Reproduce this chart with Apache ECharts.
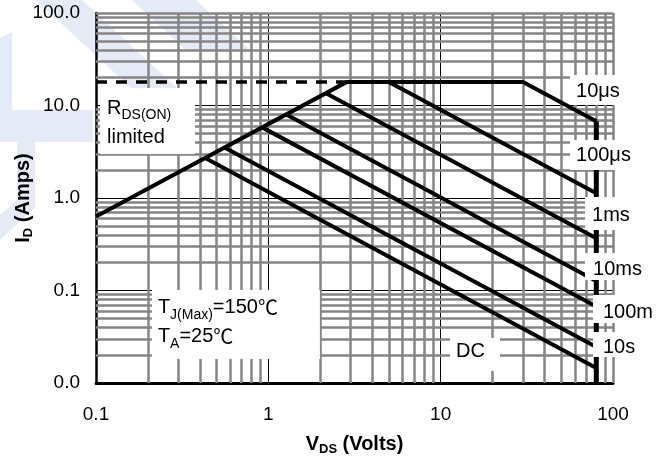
<!DOCTYPE html>
<html><head><meta charset="utf-8">
<script src="https://cdn.jsdelivr.net/npm/echarts@6/dist/echarts.min.js"></script>
<style>html,body{margin:0;padding:0;background:#fff}#c{width:667px;height:456px}</style>
</head><body><div id="c"></div>
<script>
// ---- data ----
const xTickValues = [0.1, 1, 10, 100];
const xTickLabels = ['0.1', '1', '10', '100'];
const yTickValues = [0.01, 0.1, 1, 10, 100];
const yTickLabels = ['0.0', '0.1', '1.0', '10.0', '100.0'];
const xMinorGrid = [0.2,0.3,0.4,0.5,0.6,0.7,0.8,0.9, 2,3,4,5,6,7,8,9, 20,30,40,50,60,70,80,90, 100];
const yMinorGrid = [0.02,0.03,0.04,0.05,0.06,0.07,0.08,0.09, 0.2,0.3,0.4,0.5,0.6,0.7,0.8,0.9, 2,3,4,5,6,7,8,9, 20,30,40,50,60,70,80,90, 100];

const rdsLimit = [[0.1, 0.63], [2.86, 18]];
const currentLimit = [[0.1, 18], [2.86, 18]];
const curve10us = [[2.86, 18], [30, 18], [80, 6.75]];
const curve100us = [[5, 18], [80, 1.125]];
const curve1ms = [[2.16, 13.6], [80, 0.367]];
const curve10ms = [[1.27, 8.0], [80, 0.127]];
const curve100ms = [[0.92, 5.8], [80, 0.067]];
const curve10s = [[0.56, 3.5], [80, 0.0245]];
const curveDC = [[0.43, 2.7], [80, 0.0145]];
const vdsLimit = [[80, 6.75], [80, 0.01]];

const annotationTexts = [
  '{n|R}{s|DS(ON)}\n{n|limited}',
  '{n|T}{s|J(Max)}{n|=150}{c|\u2103}\n{n|T}{s|A}{n|=25}{c|\u2103}',
  '{n|10\u03bcs}', '{n|100\u03bcs}', '{n|1ms}', '{n|10ms}', '{n|100m}', '{n|10s}', '{n|DC}'
];
// ---- annotation placement (box top-left anchors in data space) & box styles ----
const annotationAnchors = [[0.1055, 15.5], [0.211, 0.101], [56.3, 21.4], [56.3, 4.24], [68.8, 1.025], [68.8, 0.254], [76.5, 0.0894], [76.5, 0.0356], [11.33, 0.0307]];
const annotationBoxes = [
  {w: 95, h: 66, tx: 7, ty: 5.6, va: 'top'},
  {w: 168, h: 69, tx: 6, ty: 3.1, va: 'top'},
  {w: 50, h: 30, tx: 6, ty: 17, va: 'middle'},
  {w: 62, h: 30, tx: 6, ty: 16, va: 'middle'},
  {w: 42, h: 33, tx: 7, ty: 18, va: 'middle'},
  {w: 60, h: 27, tx: 8, ty: 16, va: 'middle'},
  {w: 62, h: 28, tx: 10, ty: 17, va: 'middle'},
  {w: 34, h: 25, tx: 10, ty: 15, va: 'middle'},
  {w: 50, h: 33, tx: 6, ty: 14, va: 'middle'}
];

const FONT = "'Liberation Sans', Arial, Helvetica, sans-serif";
const RICH = {
  n: {fontFamily: FONT, fontSize: 20, lineHeight: 29, fill: '#000', verticalAlign: 'middle'},
  c: {fontFamily: "'Noto Sans CJK SC', 'Liberation Sans', sans-serif", fontSize: 20, lineHeight: 29, fill: '#000', verticalAlign: 'middle'},
  s: {fontFamily: FONT, fontSize: 14, lineHeight: 16, fill: '#000', verticalAlign: 'bottom'}
};
function lookup(v, vals, labels) {
  for (let i = 0; i < vals.length; i++) {
    if (Math.abs(Math.log10(v) - Math.log10(vals[i])) < 1e-6) return labels[i];
  }
  return '';
}

const chart = echarts.init(document.getElementById('c'), null, {renderer: 'canvas'});

function curve(data, width, dash) {
  return {
    type: 'line', data: data, symbol: 'none', silent: true, z: 5, animation: false,
    lineStyle: {color: '#000', width: width, type: dash || 'solid', cap: 'butt', join: 'miter'}
  };
}

const wm = '#e5eaf7';
const option = {
  backgroundColor: '#fff',
  animation: false,
  graphic: [
    {type: 'polygon', z: -10, silent: true, shape: {points: [[36,0],[82,0],[190,100],[144,100]]}, style: {fill: wm}},
    {type: 'polygon', z: -10, silent: true, shape: {points: [[132,0],[196,0],[250,50],[186,50]]}, style: {fill: wm}},
    {type: 'polygon', z: -10, silent: true, shape: {points: [[0,38],[12,32],[12,110],[0,110]]}, style: {fill: wm}},
    {type: 'polygon', z: -10, silent: true, shape: {points: [[0,110],[93,110],[93,142],[0,142]]}, style: {fill: wm}},
    {type: 'polygon', z: -10, silent: true, shape: {points: [[17,142],[35,142],[35,207],[0,240],[0,215],[17,200]]}, style: {fill: wm}}
  ],
  grid: {left: 96, right: 54, top: 13, bottom: 73, containLabel: false, outerBoundsMode: 'none'},
  xAxis: {
    type: 'log', logBase: 10, min: 0.1, max: 100,
    name: '{n|V}{s|DS}{n| (Volts)}', nameLocation: 'middle', nameGap: 49, nameMoveOverlap: false,
    nameTextStyle: {rich: {
      n: {fontFamily: FONT, fontSize: 20, fontWeight: 'bold', color: '#000', lineHeight: 24, verticalAlign: 'middle'},
      s: {fontFamily: FONT, fontSize: 13, fontWeight: 'bold', color: '#000', lineHeight: 18, verticalAlign: 'bottom'}
    }},
    axisLine: {show: true, onZero: false, lineStyle: {color: '#000', width: 3}},
    axisTick: {show: false},
    minorTick: {show: false},
    axisLabel: {fontFamily: FONT, fontSize: 19, color: '#000', margin: 22,
      formatter: v => lookup(v, xTickValues, xTickLabels)},
    splitLine: {show: true, showMinLine: false, showMaxLine: false, lineStyle: {color: '#000', width: 1}}
  },
  yAxis: {
    type: 'log', logBase: 10, min: 0.01, max: 100,
    name: '{n|I}{s|D}{n| (Amps)}', nameLocation: 'middle', nameGap: 61, nameMoveOverlap: false,
    nameTextStyle: {rich: {
      n: {fontFamily: FONT, fontSize: 20, fontWeight: 'bold', color: '#000', lineHeight: 24, verticalAlign: 'middle'},
      s: {fontFamily: FONT, fontSize: 13, fontWeight: 'bold', color: '#000', lineHeight: 18, verticalAlign: 'bottom'}
    }},
    axisLine: {show: true, onZero: false, lineStyle: {color: '#000', width: 2.5}},
    axisTick: {show: false},
    minorTick: {show: false},
    axisLabel: {fontFamily: FONT, fontSize: 19, color: '#000', margin: 16,
      formatter: v => lookup(v, yTickValues, yTickLabels)},
    splitLine: {show: true, showMinLine: false, showMaxLine: false, lineStyle: {color: '#000', width: 1}}
  },
  series: [
    {
      type: 'line', data: [], silent: true, z: 1, animation: false,
      markLine: {
        silent: true, animation: false, symbol: ['none', 'none'], label: {show: false},
        emphasis: {disabled: true},
        lineStyle: {color: '#858585', width: 2.5, type: 'solid'},
        data: xMinorGrid.map(v => ({xAxis: v})).concat(yMinorGrid.map(v => ({yAxis: v})))
      }
    },
    curve(currentLimit, 3.5, [11, 9]),
    curve(rdsLimit, 4),
    curve(curve10us, 4),
    curve(curve100us, 4),
    curve(curve1ms, 4),
    curve(curve10ms, 4),
    curve(curve100ms, 4),
    curve(curve10s, 4),
    curve(curveDC, 4),
    curve(vdsLimit, 5),
    {
      type: 'custom', z: 10, silent: true, clip: false, animation: false,
      data: annotationAnchors,
      renderItem: function (params, api) {
        const b = annotationBoxes[params.dataIndex];
        const p = api.coord([api.value(0), api.value(1)]);
        return {
          type: 'group',
          children: [
            {type: 'rect', shape: {x: p[0], y: p[1], width: b.w, height: b.h}, style: {fill: '#fff'}},
            {type: 'text', x: p[0] + b.tx, y: p[1] + b.ty,
              style: {text: annotationTexts[params.dataIndex], rich: RICH, fill: '#000',
                fontFamily: FONT, fontSize: 20, align: 'left', verticalAlign: b.va}}
          ]
        };
      }
    }
  ]
};
chart.setOption(option);
</script>
</body></html>
